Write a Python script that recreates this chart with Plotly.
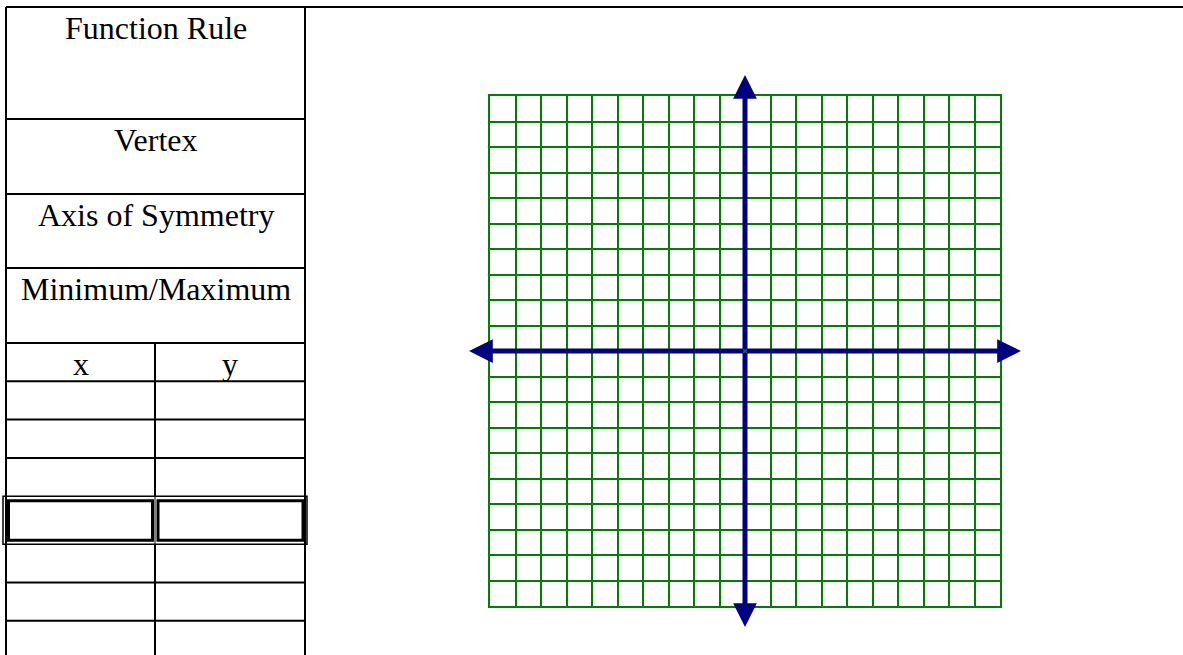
import plotly.graph_objects as go

# ── Worksheet content ─────────────────────────────────────────────────────────
row_labels = ["Function Rule", "Vertex", "Axis of Symmetry", "Minimum/Maximum"]
col_headers = ["x", "y"]
n_blank_rows = 7
double_row = 3          # index of the blank row drawn with a double border

grid_min, grid_max = -10, 10   # coordinate plane extent
axis_reach = 10.82             # how far the axis arrows run past the origin

# ── Page layout (pixels) ──────────────────────────────────────────────────────
W, H = 1183, 655
tbl_l, tbl_r, tbl_mid = 6, 305, 155
tbl_top = 7
label_bounds = [7, 119, 194, 268, 343]
row_h = 38.3
double_h = 48
grid_px = dict(l=490, r=1000, t=96, b=606)

BLACK = "#000000"
GREEN = "#008000"
NAVY = "#000080"
FONT = dict(family="Liberation Serif, Times New Roman, serif", size=32, color=BLACK)

fig = go.Figure()
shapes = []


def hline(y, x0, x1, w=2):
    shapes.append(dict(type="line", xref="x", yref="y", x0=x0, x1=x1, y0=y, y1=y,
                       line=dict(color=BLACK, width=w)))


def vline(x, y0, y1, w=2):
    shapes.append(dict(type="line", xref="x", yref="y", x0=x, x1=x, y0=y0, y1=y1,
                       line=dict(color=BLACK, width=w)))


# ── Table ────────────────────────────────────────────────────────────────────
hline(tbl_top, tbl_l, W)                  # top rule runs across the page
vline(tbl_l, tbl_top, H)
vline(tbl_r, tbl_top, H)
for yb in label_bounds[1:]:
    hline(yb, tbl_l, tbl_r)

for i, lab in enumerate(row_labels):
    fig.add_annotation(x=(tbl_l + tbl_r) / 2, y=label_bounds[i] + 21, xref="x", yref="y",
                       text=lab, showarrow=False, font=FONT, yanchor="middle")

# x / y header row plus blank rows (row k=0 is the header)
top = label_bounds[-1]
bounds = [top]
for k in range(n_blank_rows + 1):
    bounds.append(bounds[-1] + (double_h if k - 1 == double_row else row_h))

for k in range(len(bounds) - 1):
    y0, y1 = bounds[k], bounds[k + 1]
    if k - 1 == double_row:
        # double border cell pair
        shapes.append(dict(type="rect", xref="x", yref="y", x0=tbl_l - 3, x1=tbl_r + 2,
                           y0=y0, y1=y1, line=dict(color=BLACK, width=1.5)))
        for cx0, cx1 in [(tbl_l + 2.5, tbl_mid - 2.5), (tbl_mid + 3, tbl_r - 2)]:
            shapes.append(dict(type="rect", xref="x", yref="y", x0=cx0, x1=cx1,
                               y0=y0 + 4.5, y1=y1 - 4, line=dict(color=BLACK, width=3)))
        vline(tbl_mid, y0, y1, w=1)
    else:
        vline(tbl_mid, y0, min(y1, H))
        if k + 1 < len(bounds) - 1 and k != double_row:
            hline(y1, tbl_l, tbl_r)

for cx, h in zip([(tbl_l + tbl_mid) / 2, (tbl_mid + tbl_r) / 2], col_headers):
    fig.add_annotation(x=cx, y=top + 21, xref="x", yref="y", text=h, showarrow=False,
                       font=FONT, yanchor="middle")

# ── Coordinate plane axes (arrows from origin) ───────────────────────────────
for dx, dy in [(1, 0), (-1, 0), (0, 1), (0, -1)]:
    fig.add_annotation(x=dx * axis_reach, y=dy * axis_reach, ax=0, ay=0,
                       xref="x2", yref="y2", axref="x2", ayref="y2",
                       text="", showarrow=True, arrowhead=2, arrowsize=0.95,
                       arrowwidth=5, arrowcolor=NAVY, standoff=0)

# invisible traces so both subplots exist
fig.add_trace(go.Scatter(x=[grid_min, grid_max], y=[grid_min, grid_max], xaxis="x2",
                         yaxis="y2", mode="markers", marker=dict(opacity=0),
                         hoverinfo="skip", showlegend=False))
fig.add_trace(go.Scatter(x=[0, W], y=[0, H], mode="markers", marker=dict(opacity=0),
                         hoverinfo="skip", showlegend=False))

grid_axis = dict(range=[grid_min, grid_max], dtick=1, showgrid=True, gridcolor=GREEN,
                 gridwidth=1.5, zeroline=False, showline=True, mirror=True,
                 linecolor=GREEN, linewidth=1.5, showticklabels=False, ticks="",
                 fixedrange=True)

fig.update_layout(
    width=W, height=H,
    margin=dict(l=0, r=0, t=0, b=0),
    paper_bgcolor="white", plot_bgcolor="rgba(0,0,0,0)",
    showlegend=False,
    xaxis=dict(range=[0, W], visible=False, domain=[0, 1], fixedrange=True),
    yaxis=dict(range=[H, 0], visible=False, domain=[0, 1], fixedrange=True),
    xaxis2=dict(grid_axis, domain=[grid_px["l"] / W, grid_px["r"] / W], anchor="y2"),
    yaxis2=dict(grid_axis, domain=[(H - grid_px["b"]) / H, (H - grid_px["t"]) / H],
                anchor="x2"),
    shapes=shapes,
)

# drop the browser's default body margin so the page starts at (0, 0)
fig.write_html("out.html", config={"displayModeBar": False},
               post_script="document.body.style.margin='0';")
